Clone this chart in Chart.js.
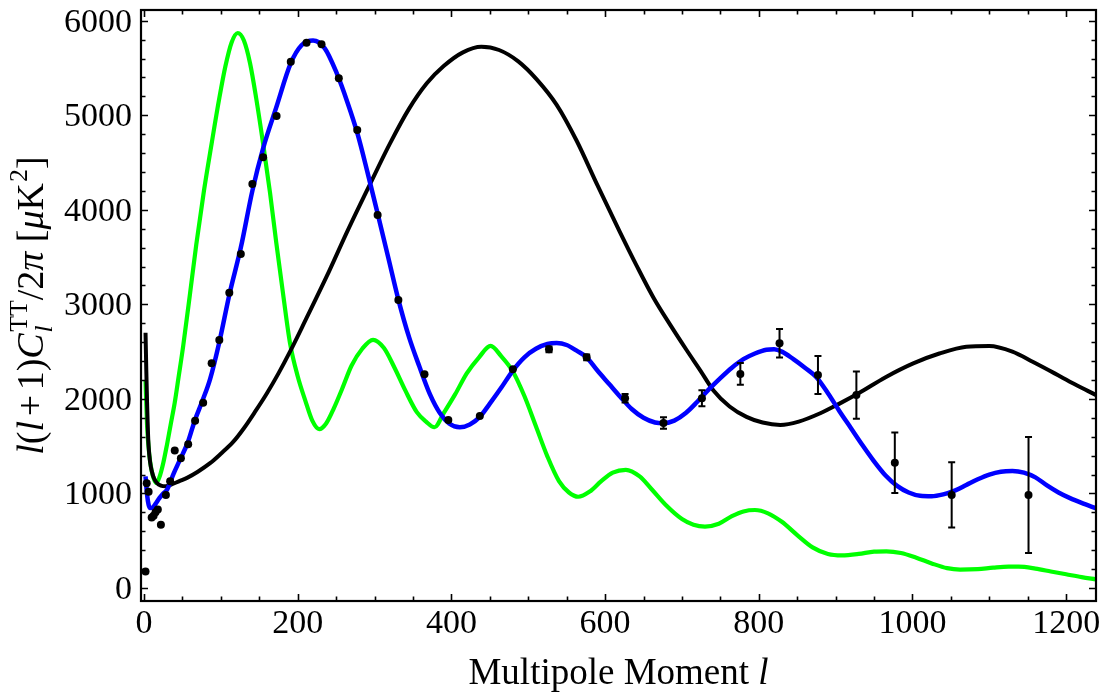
<!DOCTYPE html>
<html>
<head>
<meta charset="utf-8">
<script src="https://cdn.jsdelivr.net/npm/chart.js@4/dist/chart.umd.min.js"></script>
<style>
  html, body { margin: 0; padding: 0; background: #ffffff; }
  #wrap { width: 1108px; height: 698px; position: relative; }
</style>
</head>
<body>
<div id="wrap"><canvas id="cmb" width="1108" height="698"></canvas></div>
<script>
// ---- Tick labels ----
const xTickLabels = ['0', '200', '400', '600', '800', '1000', '1200'];
const yTickLabels = ['0', '1000', '2000', '3000', '4000', '5000', '6000'];
const xMinorStep = 50;
const yMinorStep = 200;

// ---- Model spectrum, peak near l ~ 120 (green) ----
const greenL = [2, 4, 7, 10, 13, 16, 20, 25, 30, 35, 40, 45, 51, 60, 68, 78, 88, 98, 106, 114, 122, 130, 138, 146, 155, 164, 172, 181, 190, 200, 210, 219, 228, 237, 247, 258, 270, 284, 298, 312, 326, 340, 355, 367, 378, 390, 405, 420, 436, 451, 465, 480, 495, 510, 525, 540, 553, 565, 580, 595, 610, 627, 645, 660, 680, 700, 715, 730, 748, 765, 780, 795, 812, 830, 850, 870, 890, 908, 930, 950, 966, 985, 1005, 1025, 1045, 1062, 1085, 1105, 1125, 1138, 1160, 1180, 1200, 1220, 1239];
const greenV = [2200, 1720, 1400, 1240, 1150, 1110, 1170, 1320, 1520, 1740, 1960, 2230, 2560, 3120, 3630, 4200, 4700, 5180, 5520, 5770, 5870, 5790, 5550, 5180, 4700, 4180, 3660, 3110, 2590, 2240, 1980, 1770, 1680, 1740, 1900, 2110, 2350, 2530, 2625, 2540, 2330, 2090, 1860, 1760, 1700, 1850, 2050, 2270, 2440, 2560, 2450, 2290, 2030, 1710, 1390, 1130, 1010, 965, 1020, 1130, 1220, 1250, 1180, 1050, 870, 730, 670, 650, 680, 760, 810, 825, 790, 700, 560, 430, 360, 345, 360, 385, 388, 370, 320, 260, 210, 195, 200, 215, 225, 225, 205, 175, 145, 115, 92];

// ---- Best-fit spectrum, peak near l ~ 220 (blue) ----
const blueL = [2, 4, 6, 8, 11, 15, 20, 25, 30, 38, 47, 57, 66, 76, 86, 98, 111, 126, 141, 155, 172, 191, 205, 220, 235, 250, 265, 278, 291, 304, 318, 331, 345, 358, 372, 385, 397, 411, 424, 437, 450, 465, 480, 495, 510, 525, 537, 550, 563, 576, 590, 605, 620, 635, 650, 665, 676, 690, 705, 720, 735, 750, 765, 780, 795, 810, 820, 830, 845, 860, 875, 890, 905, 920, 935, 950, 965, 980, 995, 1010, 1025, 1040, 1055, 1070, 1085, 1100, 1115, 1130, 1145, 1160, 1175, 1190, 1205, 1220, 1239];
const blueV = [1180, 990, 880, 845, 850, 890, 950, 1000, 1040, 1200, 1360, 1540, 1770, 1980, 2210, 2600, 3100, 3600, 4200, 4650, 5080, 5550, 5740, 5790, 5710, 5460, 5130, 4800, 4390, 3960, 3490, 3050, 2650, 2350, 2050, 1850, 1740, 1700, 1730, 1810, 1950, 2120, 2300, 2440, 2530, 2580, 2590, 2570, 2510, 2440, 2300, 2160, 2020, 1890, 1800, 1750, 1742, 1770, 1850, 1970, 2100, 2220, 2330, 2420, 2480, 2520, 2525, 2500, 2420, 2330, 2230, 2060, 1870, 1690, 1510, 1340, 1190, 1080, 1010, 975, 970, 990, 1030, 1090, 1150, 1200, 1230, 1237, 1220, 1170, 1085, 1010, 950, 900, 843];

// ---- Model spectrum, peak near l ~ 440 (black) ----
const blackL = [2, 3, 4, 5, 6, 8, 10, 13, 17, 22, 28, 36, 46, 56, 70, 86, 100, 116, 130, 145, 160, 175, 190, 210, 238, 265, 294, 320, 345, 368, 390, 415, 439, 462, 487, 511, 537, 563, 590, 619, 641, 663, 685, 706, 724, 741, 762, 784, 805, 828, 852, 880, 905, 932, 965, 1001, 1035, 1070, 1100, 1130, 1157, 1185, 1210, 1239];
const blackV = [2700, 2300, 1960, 1680, 1500, 1330, 1240, 1160, 1110, 1082, 1075, 1095, 1130, 1165, 1230, 1320, 1420, 1545, 1690, 1870, 2060, 2270, 2500, 2830, 3300, 3780, 4270, 4700, 5070, 5338, 5520, 5665, 5725, 5690, 5570, 5380, 5110, 4730, 4260, 3770, 3410, 3070, 2780, 2517, 2300, 2090, 1920, 1810, 1750, 1725, 1760, 1848, 1950, 2070, 2230, 2376, 2480, 2552, 2560, 2500, 2390, 2270, 2160, 2040];

// ---- Measured band powers with 1-sigma errors ----
const pointL = [2, 3.5, 6, 10, 12.5, 15, 18, 22, 28.5, 34, 40, 48, 57.5, 66.5, 77, 88, 98, 111, 126, 141, 155, 172.5, 191, 211.5, 231, 253.5, 277.5, 304, 331, 365, 396, 437, 480, 527, 576, 626, 676, 726, 776, 827, 877, 927, 977, 1051, 1151];
const pointV = [175, 1107, 1018, 745, 765, 800, 830, 670, 984, 1130, 1455, 1372, 1520, 1770, 1960, 2376, 2623, 3123, 3533, 4273, 4555, 4992, 5567, 5767, 5750, 5391, 4844, 3945, 3046, 2260, 1777, 1819, 2313, 2524, 2440, 2006, 1745, 2006, 2264, 2588, 2253, 2041, 1325, 984, 984];
const pointErr = [0, 0, 0, 0, 0, 0, 0, 0, 0, 0, 0, 0, 0, 0, 0, 0, 0, 0, 0, 0, 0, 0, 0, 0, 0, 0, 0, 0, 0, 0, 0, 0, 0, 30, 30, 45, 60, 85, 115, 150, 200, 250, 320, 345, 613];

const serif = '"Liberation Serif", "Times New Roman", serif';
const toXY = (xs, ys) => xs.map((x, i) => ({ x: x, y: ys[i] }));

// Draws a sequence of text pieces centred on cx, with the text body centred near y
function drawRuns(ctx, runs, size, cx, y) {
  const small = size * 0.68;
  const fontOf = (s, it) => (it ? 'italic ' : '') + s + 'px ' + serif;
  const widthOf = r => {
    if (r.gap) return r.gap * size;
    if (r.stack) {
      ctx.font = fontOf(small, true); const w1 = ctx.measureText(r.sub).width;
      ctx.font = fontOf(small, false); const w2 = ctx.measureText(r.sup).width;
      return Math.max(w1, w2) + size * 0.04;
    }
    if (r.sup) { ctx.font = fontOf(small, false); return ctx.measureText(r.sup).width + size * 0.03; }
    ctx.font = fontOf(size, r.it); return ctx.measureText(r.t).width;
  };
  const total = runs.reduce((s, r) => s + widthOf(r), 0);
  let x = cx - total / 2;
  ctx.textAlign = 'left';
  ctx.textBaseline = 'alphabetic';
  const base = y + size * 0.3;
  runs.forEach(r => {
    const w = widthOf(r);
    if (r.stack) {
      ctx.font = fontOf(small, true); ctx.fillText(r.sub, x + size * 0.02, base + size * 0.22);
      ctx.font = fontOf(small, false); ctx.fillText(r.sup, x + size * 0.04, base - size * 0.42);
    } else if (r.sup) {
      ctx.font = fontOf(small, false); ctx.fillText(r.sup, x + size * 0.03, base - size * 0.42);
    } else if (r.t) {
      ctx.font = fontOf(size, r.it); ctx.fillText(r.t, x, base);
    }
    x += w;
  });
}

// Frame with inward ticks on all four sides, tick labels and axis titles
const framePlugin = {
  id: 'frame',
  afterDraw(chart) {
    const { ctx, chartArea: a, scales } = chart;
    const xs = scales.x, ys = scales.y;
    ctx.save();
    ctx.strokeStyle = '#000';
    ctx.lineWidth = 1.6;
    const xMax = Number(xTickLabels[xTickLabels.length - 1]);
    const yMax = Number(yTickLabels[yTickLabels.length - 1]);
    const xMajor = Number(xTickLabels[1]) - Number(xTickLabels[0]);
    const yMajor = Number(yTickLabels[1]) - Number(yTickLabels[0]);
    ctx.beginPath();
    for (let v = 0; v <= xMax; v += xMinorStep) {
      const px = Math.round(xs.getPixelForValue(v)) + 0.5;
      const len = (v % xMajor === 0) ? 7 : 4.5;
      ctx.moveTo(px, a.bottom); ctx.lineTo(px, a.bottom - len);
      ctx.moveTo(px, a.top); ctx.lineTo(px, a.top + len);
    }
    for (let v = 0; v <= yMax; v += yMinorStep) {
      const py = Math.round(ys.getPixelForValue(v)) + 0.5;
      const len = (v % yMajor === 0) ? 7 : 4.5;
      ctx.moveTo(a.left, py); ctx.lineTo(a.left + len, py);
      ctx.moveTo(a.right, py); ctx.lineTo(a.right - len, py);
    }
    ctx.stroke();
    ctx.lineWidth = 2.2;
    ctx.strokeRect(a.left, a.top, a.right - a.left, a.bottom - a.top);

    ctx.fillStyle = '#000';
    ctx.font = '34px ' + serif;
    ctx.textAlign = 'center';
    ctx.textBaseline = 'middle';
    xTickLabels.forEach(t => {
      ctx.fillText(t, xs.getPixelForValue(Number(t)), a.bottom + 23);
    });
    ctx.textAlign = 'right';
    yTickLabels.forEach(t => {
      ctx.fillText(t, a.left - 9, ys.getPixelForValue(Number(t)) + 2);
    });

    // x-axis title
    drawRuns(ctx, [
      { t: 'Multipole Moment ' },
      { t: 'l', it: true }
    ], 37, (a.left + a.right) / 2, 673);

    // y-axis title, rotated
    ctx.translate(32, (a.top + a.bottom) / 2);
    ctx.rotate(-Math.PI / 2);
    drawRuns(ctx, [
      { t: 'l', it: true }, { t: '(' }, { t: 'l', it: true }, { gap: 0.12 }, { t: '+' }, { gap: 0.12 }, { t: '1)' },
      { t: 'C', it: true }, { stack: true, sub: 'l', sup: 'TT' },
      { t: '/2' }, { t: 'π', it: true }, { t: ' [' }, { t: 'μ', it: true }, { t: 'K' }, { sup: '2' }, { t: ']' }
    ], 38, 0, 0);
    ctx.restore();
  }
};

// Vertical error bars with caps, on top of the curves
const errorBarPlugin = {
  id: 'errorBars',
  afterDatasetsDraw(chart) {
    const { ctx, scales } = chart;
    const xs = scales.x, ys = scales.y;
    ctx.save();
    ctx.strokeStyle = '#000';
    ctx.lineWidth = 2;
    pointL.forEach((l, i) => {
      const e = pointErr[i];
      if (!e) return;
      const px = xs.getPixelForValue(l);
      const y1 = ys.getPixelForValue(pointV[i] - e);
      const y2 = ys.getPixelForValue(pointV[i] + e);
      ctx.beginPath();
      ctx.moveTo(px, y1); ctx.lineTo(px, y2);
      ctx.moveTo(px - 3.5, y1); ctx.lineTo(px + 3.5, y1);
      ctx.moveTo(px - 3.5, y2); ctx.lineTo(px + 3.5, y2);
      ctx.stroke();
    });
    ctx.restore();
  }
};

const lineStyle = (color, width) => ({
  showLine: true, borderColor: color, borderWidth: width, pointRadius: 0,
  cubicInterpolationMode: 'monotone', fill: false
});

new Chart(document.getElementById('cmb'), {
  type: 'scatter',
  data: {
    datasets: [
      { label: 'band powers', data: toXY(pointL, pointV), showLine: false,
        pointRadius: 4, pointBackgroundColor: '#000', pointBorderWidth: 0, order: 0 },
      Object.assign({ label: 'best fit', data: toXY(blueL, blueV), order: 1 }, lineStyle('#0000ff', 4.5)),
      Object.assign({ label: 'model B', data: toXY(blackL, blackV), order: 2 }, lineStyle('#000000', 4)),
      Object.assign({ label: 'model A', data: toXY(greenL, greenV), order: 3 }, lineStyle('#00ff00', 4.2))
    ]
  },
  options: {
    responsive: false,
    animation: false,
    devicePixelRatio: 1,
    layout: { padding: { left: 141, right: 12, top: 10, bottom: 97 } },
    scales: {
      x: { type: 'linear', min: -3.9, max: 1238.8, display: false },
      y: { type: 'linear', min: -137.5, max: 6113, display: false }
    },
    plugins: { legend: { display: false }, tooltip: { enabled: false } }
  },
  plugins: [framePlugin, errorBarPlugin]
});
</script>
</body>
</html>
